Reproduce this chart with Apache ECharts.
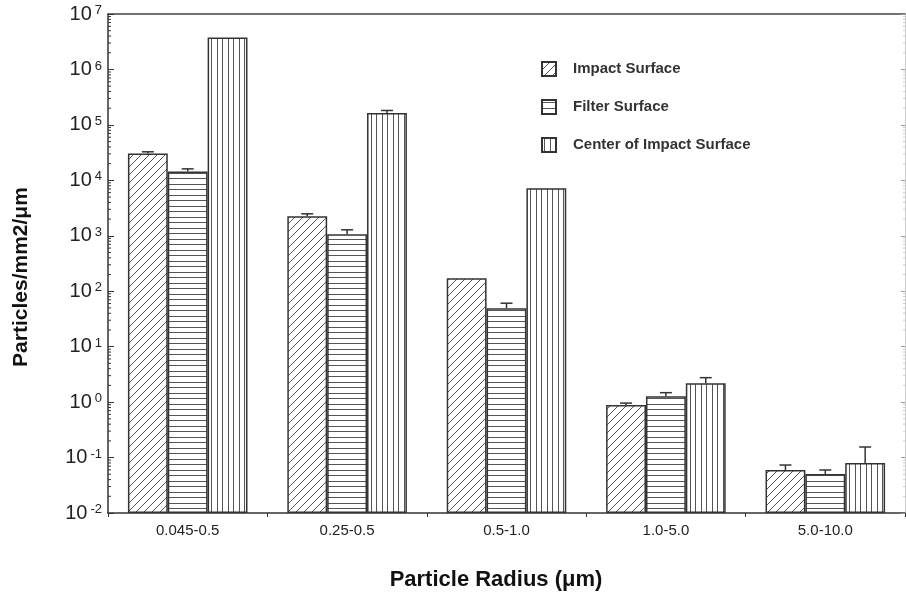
<!DOCTYPE html>
<html>
<head>
<meta charset="utf-8">
<script src="https://cdn.jsdelivr.net/npm/echarts@6/dist/echarts.min.js"></script>
<style>
html, body { margin: 0; padding: 0; background: #fff; }
#chart { width: 906px; height: 597px; }
</style>
</head>
<body>
<div id="chart"></div>
<script>
//数据部分
var categories = ['0.045-0.5', '0.25-0.5', '0.5-1.0', '1.0-5.0', '5.0-10.0'];
var seriesNames = ['Impact Surface', 'Filter Surface', 'Center of Impact Surface'];
var impactValues = [3.06e4, 2245, 171, 0.883, 0.0596];
var filterValues = [1.45e4, 1065, 49.4, 1.28, 0.0504];
var centerValues = [3.78e6, 1.64e5, 7180, 2.20, 0.0796];
// 误差线上端 (null = 没有)
var impactUpper = [3.27e4, 2490, null, 0.96, 0.0733];
var filterUpper = [1.61e4, 1282, 60.8, 1.48, 0.0596];
var centerUpper = [null, 1.82e5, null, 2.76, 0.155];
var yTicks = [0.01, 0.1, 1, 10, 100, 1e3, 1e4, 1e5, 1e6, 1e7];
var minorSteps = [2, 3, 4, 5, 6, 7, 8, 9];

var FONT = '"Liberation Sans", Arial, Helvetica, sans-serif';

//填充图案
function hatch(kind) {
    var s = kind === 'diag' ? 8 : 11;
    var c = document.createElement('canvas');
    c.width = s; c.height = s;
    var g = c.getContext('2d');
    g.fillStyle = '#fff';
    g.fillRect(0, 0, s, s);
    g.strokeStyle = '#555';
    g.lineWidth = 1;
    g.beginPath();
    if (kind === 'diag') {
        g.moveTo(0, s); g.lineTo(s, 0);
        g.moveTo(-1, 1); g.lineTo(1, -1);
        g.moveTo(s - 1, s + 1); g.lineTo(s + 1, s - 1);
    } else if (kind === 'horiz') {
        g.moveTo(0, 2.5); g.lineTo(s, 2.5);
        g.moveTo(0, 8.5); g.lineTo(s, 8.5);
    } else {
        g.moveTo(2.5, 0); g.lineTo(2.5, s);
        g.moveTo(8.5, 0); g.lineTo(8.5, s);
    }
    g.stroke();
    return { image: c, repeat: 'repeat' };
}
var fills = [hatch('diag'), hatch('horiz'), hatch('vert')];
var valueSets = [impactValues, filterValues, centerValues];
var upperSets = [impactUpper, filterUpper, centerUpper];

//误差线数据 [类别, 柱顶, 上端, 第几个柱]
var errData = [];
for (var k = 0; k < 3; k++) {
    for (var i = 0; i < categories.length; i++) {
        if (upperSets[k][i] != null) {
            errData.push([i, valueSets[k][i], upperSets[k][i], k]);
        }
    }
}
//对数次刻度
var minorData = [];
for (var d = 0; d < yTicks.length - 1; d++) {
    for (var m = 0; m < minorSteps.length; m++) {
        minorData.push([0, yTicks[d] * minorSteps[m]]);
    }
}

var barSeries = [];
for (var k = 0; k < 3; k++) {
    barSeries.push({
        name: seriesNames[k],
        type: 'bar',
        barWidth: '25%',
        barGap: '0%',
        data: valueSets[k],
        itemStyle: { color: fills[k], borderColor: '#333', borderWidth: 1.5 },
        emphasis: { disabled: true },
        animation: false
    });
}

var option = {
    animation: false,
    grid: { left: 108, right: 1, top: 14, bottom: 84 },
    legend: {
        orient: 'vertical',
        left: 536,
        top: 56,
        icon: 'rect',
        itemWidth: 14,
        itemHeight: 14,
        itemGap: 22,
        data: seriesNames,
        textStyle: { fontFamily: FONT, fontSize: 15, fontWeight: 'bold', color: '#333', padding: [0, 0, 0, 12] }
    },
    xAxis: [{
        type: 'category',
        data: categories,
        axisLine: { lineStyle: { color: '#333', width: 1.5 } },
        axisTick: { show: true, length: 4, lineStyle: { color: '#333' } },
        axisLabel: { fontFamily: FONT, fontSize: 15, color: '#222', margin: 10 }
    }, {
        type: 'category',
        position: 'top',
        data: categories,
        axisLine: { lineStyle: { color: '#444', width: 1.5 } },
        axisTick: { show: false },
        axisLabel: { show: false }
    }],
    yAxis: [{
        type: 'log',
        logBase: 10,
        min: 0.01,
        max: 1e7,
        startValue: 0.01,
        axisLine: { show: true, lineStyle: { color: '#333', width: 1.5 } },
        axisTick: { show: true, inside: true, length: 6, lineStyle: { color: '#333' } },
        splitLine: { show: false },
        axisLabel: {
            margin: 6,
            formatter: function (v) {
                return '{b|10}{s|' + Math.round(Math.log10(v)) + '}';
            },
            rich: {
                b: { fontFamily: FONT, fontSize: 20, color: '#222', lineHeight: 20 },
                s: { fontFamily: FONT, fontSize: 13, color: '#222', verticalAlign: 'top', lineHeight: 13, padding: [0, 0, 0, 3] }
            }
        }
    }, {
        type: 'log',
        logBase: 10,
        min: 0.01,
        max: 1e7,
        position: 'right',
        axisLine: { show: true, lineStyle: { color: '#ccc', width: 1 } },
        axisTick: { show: true, inside: true, length: 4, lineStyle: { color: '#999' } },
        splitLine: { show: false },
        axisLabel: { show: false }
    }],
    graphic: [{
        type: 'text',
        x: 496,
        y: 580,
        style: { text: 'Particle Radius (μm)', fontFamily: FONT, fontSize: 22, fontWeight: 'bold', fill: '#111', align: 'center', verticalAlign: 'middle' }
    }, {
        type: 'text',
        x: 21,
        y: 277,
        rotation: Math.PI / 2,
        style: { text: 'Particles/mm2/μm', fontFamily: FONT, fontSize: 21, fontWeight: 'bold', fill: '#111', align: 'center', verticalAlign: 'middle' }
    }],
    series: barSeries.concat([{
        type: 'custom',
        name: 'err',
        z: 5,
        encode: { x: 0, y: [1, 2] },
        data: errData,
        renderItem: function (params, api) {
            var cat = api.value(0);
            var band = api.size([1, 0])[0];
            var dx = (api.value(3) - 1) * band * 0.25;
            var top = api.coord([cat, api.value(2)]);
            var bot = api.coord([cat, api.value(1)]);
            var x = top[0] + dx;
            var st = { stroke: '#333', lineWidth: 1.5 };
            return {
                type: 'group',
                children: [
                    { type: 'line', shape: { x1: x, y1: bot[1], x2: x, y2: top[1] }, style: st },
                    { type: 'line', shape: { x1: x - 6, y1: top[1], x2: x + 6, y2: top[1] }, style: st }
                ]
            };
        }
    }, {
        type: 'custom',
        name: 'minor',
        z: 5,
        silent: true,
        data: minorData,
        encode: { x: 0, y: 1 },
        renderItem: function (params, api) {
            var y = api.coord([0, api.value(1)])[1];
            var x0 = params.coordSys.x;
            var x1 = x0 + params.coordSys.width;
            return {
                type: 'group',
                children: [
                    { type: 'line', shape: { x1: x0, y1: y, x2: x0 + 3, y2: y }, style: { stroke: '#333', lineWidth: 1 } },
                    { type: 'line', shape: { x1: x1, y1: y, x2: x1 - 2, y2: y }, style: { stroke: '#ccc', lineWidth: 1 } }
                ]
            };
        }
    }])
};

var myChart = echarts.init(document.getElementById('chart'));
myChart.setOption(option);
</script>
</body>
</html>
